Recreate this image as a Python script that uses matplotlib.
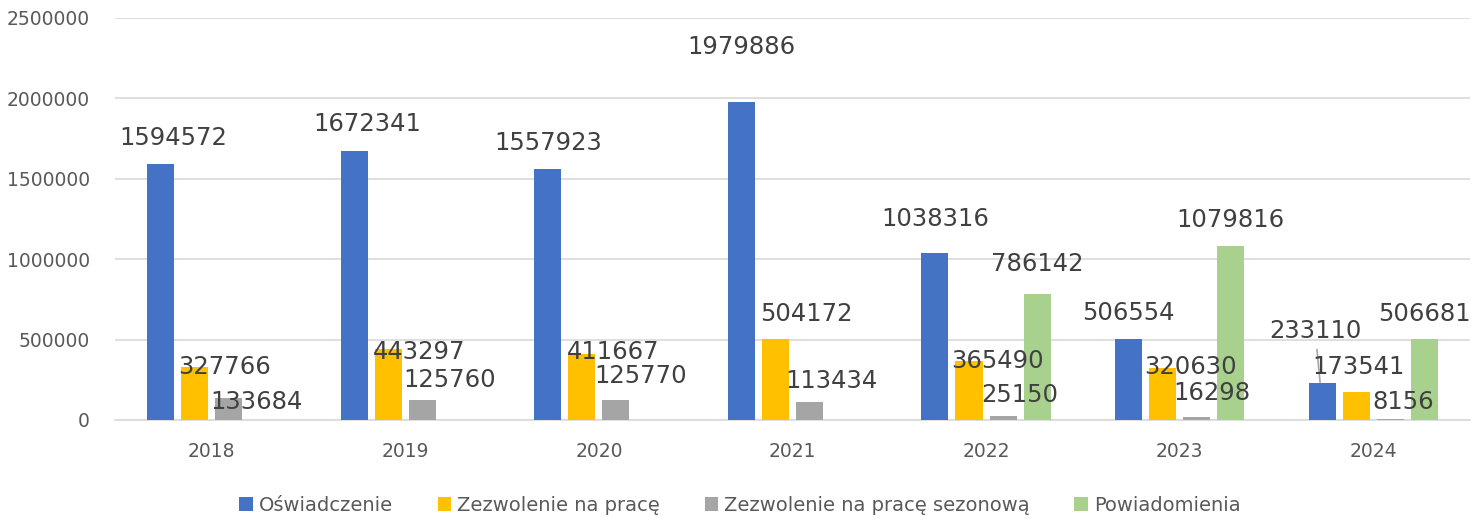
import matplotlib.pyplot as plt
import numpy as np

# Data
years = ['2018', '2019', '2020', '2021', '2022', '2023', '2024']
oswiadczenie = [1594572, 1672341, 1557923, 1979886, 1038316, 506554, 233110]
zezwolenie = [327766, 443297, 411667, 504172, 365490, 320630, 173541]
sezonowe = [133684, 125760, 125770, 113434, 25150, 16298, 8156]
powiadomienia = [np.nan, np.nan, np.nan, np.nan, 786142, 1079816, 506681]

series_names = ['Oświadczenie', 'Zezwolenie na pracę',
                'Zezwolenie na pracę sezonową', 'Powiadomienia']
colors = ['#4472C4', '#FFC000', '#A5A5A5', '#A9D18E']

# label offsets from bar top (pixels, x right / y up), Excel-like placement
label_offsets = [
    [(13, 26), (13, 27), (0, 26), (0, 55), (0, 34), (0, 26), (-5, 52)],
    [(30, 0), (31, -3), (31, 2), (31, 25), (29, 0), (28, 1), (2, 25)],
    [(28, -4), (27, 20), (25, 24), (22, 21), (17, 21), (15, 24), (13, 17)],
    [None, None, None, None, (0, 30), (0, 26), (0, 25)],
]

fig = plt.figure(figsize=(14.8, 5.18), dpi=100)
ax = fig.add_axes([0.0777, 0.1892, 0.9155, 0.7761])

x = np.arange(len(years))
width = 0.14
step = 0.176
all_series = [oswiadczenie, zezwolenie, sezonowe, powiadomienia]

for k, (vals, name, col) in enumerate(zip(all_series, series_names, colors)):
    pos = x + (k - 1.5) * step
    ax.bar(pos, vals, width, color=col, label=name, zorder=3)
    for i, v in enumerate(vals):
        if np.isnan(v):
            continue
        dx, dy = label_offsets[k][i]
        if k == 0 and i == 6:
            # leader line for the displaced 2024 label
            ax.annotate(str(int(v)), xy=(pos[i] - 0.01, v), xytext=(dx, dy),
                        textcoords='offset pixels', ha='center', va='center',
                        fontsize=17.5, color='#404040', zorder=6,
                        arrowprops=dict(arrowstyle='-', color='#A6A6A6', lw=1.2,
                                        shrinkA=3, shrinkB=0))
        else:
            ax.annotate(str(int(v)), xy=(pos[i], v), xytext=(dx, dy),
                        textcoords='offset pixels', ha='center', va='center',
                        fontsize=17.5, color='#404040', zorder=6)

ax.set_xlim(-0.5, 6.5)
ax.set_ylim(0, 2500000)
ax.set_yticks(np.arange(0, 2500001, 500000))
ax.set_yticklabels([str(v) for v in range(0, 2500001, 500000)])
ax.set_xticks(x)
ax.set_xticklabels(years)
ax.yaxis.grid(True, color='#D9D9D9', linewidth=1.2, zorder=0)
ax.tick_params(axis='y', length=0, pad=18, labelsize=13.5, labelcolor='#595959')
ax.tick_params(axis='x', length=0, pad=16, labelsize=13.5, labelcolor='#595959')
for s in ['top', 'right', 'left']:
    ax.spines[s].set_visible(False)
ax.spines['bottom'].set_color('#D9D9D9')
ax.spines['bottom'].set_linewidth(1.2)

fig.legend(loc='lower center', bbox_to_anchor=(0.5, -0.028), ncol=4,
           frameon=False, fontsize=14, handlelength=0.7, handleheight=0.7,
           handletextpad=0.3, columnspacing=2.3, labelcolor='#595959')

fig.savefig('out.png', dpi=100)
